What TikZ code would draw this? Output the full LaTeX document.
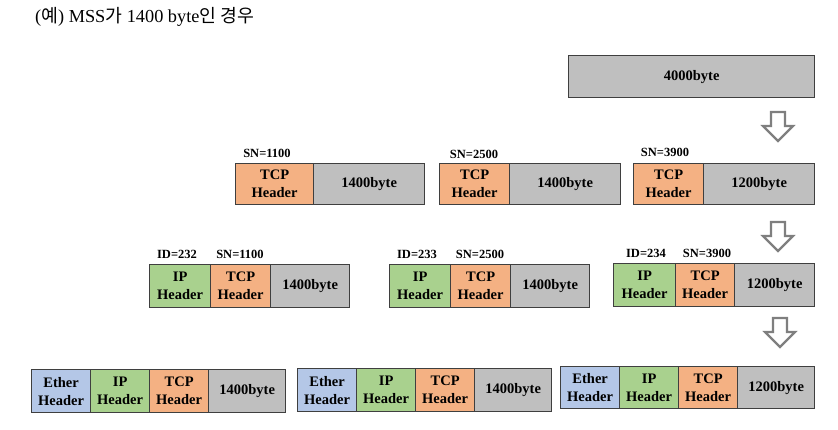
\documentclass[tikz,border=0pt]{standalone}
\usepackage{fontspec}
\setmainfont{Liberation Serif}
\newfontfamily\kr{Noto Sans CJK KR}
\definecolor{cgray}{HTML}{BFBFBF}
\definecolor{corange}{HTML}{F4B183}
\definecolor{cgreen}{HTML}{A9D18E}
\definecolor{cblue}{HTML}{B4C7E7}
\definecolor{cline}{HTML}{3F3F3F}
\definecolor{carrow}{HTML}{7F7F7F}
\tikzset{
  cell/.style={draw=cline, line width=1.3pt, inner sep=0pt, anchor=north west, align=center,
    font=\bfseries\fontsize{14.5}{18}\selectfont},
  data/.style={cell, fill=cgray},
  tcp/.style={cell, fill=corange},
  ip/.style={cell, fill=cgreen},
  eth/.style={cell, fill=cblue},
  lbl/.style={font=\bfseries\fontsize{12.5}{14}\selectfont, inner sep=0pt},
  pics/dnarrow/.style={code={
    \draw[carrow, fill=white, line width=2.2pt, line join=miter]
      (-7,0) -- (7,0) -- (7,14) -- (15,14) -- (0,29) -- (-15,14) -- (-7,14) -- cycle;}}
}
\begin{document}
\begin{tikzpicture}[x=1pt, y=-1pt]
\useasboundingbox (0,0) rectangle (838,429);
% title
\node[anchor=west, inner sep=0pt, font=\fontsize{18.3}{21}\selectfont] (title) at (35,17)
  {({\kr 예}) MSS{\kr 가} 1400 byte{\kr 인 경우}};
% row 1
\node[data, minimum width=246pt, minimum height=42pt] (seg) at (568,55) {4000byte};
\pic at (778,112) {dnarrow};
% row 2
\node[tcp, minimum width=78pt, minimum height=41pt] (a1t) at (235,163) {TCP\\Header};
\node[data, minimum width=111pt, minimum height=41pt] (a1d) at (313,163) {1400byte};
\node[tcp, minimum width=70pt, minimum height=41pt] (a2t) at (439,163) {TCP\\Header};
\node[data, minimum width=111pt, minimum height=41pt] (a2d) at (509,163) {1400byte};
\node[tcp, minimum width=70pt, minimum height=41pt] (a3t) at (633,163) {TCP\\Header};
\node[data, minimum width=111pt, minimum height=41pt] (a3d) at (703,163) {1200byte};
\node[lbl] (sn1) at (267,153) {SN=1100};
\node[lbl] (sn2) at (474,154) {SN=2500};
\node[lbl] (sn3) at (665,152) {SN=3900};
\pic at (778,222) {dnarrow};
% row 3
\node[ip, minimum width=61pt, minimum height=43pt] (b1i) at (149,264) {IP\\Header};
\node[tcp, minimum width=60pt, minimum height=43pt] (b1t) at (210,264) {TCP\\Header};
\node[data, minimum width=79pt, minimum height=43pt] (b1d) at (270,264) {1400byte};
\node[ip, minimum width=61pt, minimum height=43pt] (b2i) at (389,264) {IP\\Header};
\node[tcp, minimum width=60pt, minimum height=43pt] (b2t) at (450,264) {TCP\\Header};
\node[data, minimum width=79pt, minimum height=43pt] (b2d) at (510,264) {1400byte};
\node[ip, minimum width=62pt, minimum height=43pt] (b3i) at (613,263) {IP\\Header};
\node[tcp, minimum width=59pt, minimum height=43pt] (b3t) at (675,263) {TCP\\Header};
\node[data, minimum width=80pt, minimum height=43pt] (b3d) at (734,263) {1200byte};
\node[lbl] (id1) at (177,254) {ID=232};
\node[lbl] (sb1) at (240,254) {SN=1100};
\node[lbl] (id2) at (417,254) {ID=233};
\node[lbl] (sb2) at (480,254) {SN=2500};
\node[lbl] (id3) at (646,253) {ID=234};
\node[lbl] (sb3) at (707,253) {SN=3900};
\pic at (780,318) {dnarrow};
% row 4
\node[eth, minimum width=59pt, minimum height=43pt] (c1e) at (31,369) {Ether\\Header};
\node[ip, minimum width=59pt, minimum height=43pt] (c1i) at (90,369) {IP\\Header};
\node[tcp, minimum width=59pt, minimum height=43pt] (c1t) at (149,369) {TCP\\Header};
\node[data, minimum width=77pt, minimum height=43pt] (c1d) at (208,369) {1400byte};
\node[eth, minimum width=59pt, minimum height=43pt] (c2e) at (297,368) {Ether\\Header};
\node[ip, minimum width=59pt, minimum height=43pt] (c2i) at (356,368) {IP\\Header};
\node[tcp, minimum width=59pt, minimum height=43pt] (c2t) at (415,368) {TCP\\Header};
\node[data, minimum width=77pt, minimum height=43pt] (c2d) at (474,368) {1400byte};
\node[eth, minimum width=59pt, minimum height=42pt] (c3e) at (560,366) {Ether\\Header};
\node[ip, minimum width=59pt, minimum height=42pt] (c3i) at (619,366) {IP\\Header};
\node[tcp, minimum width=59pt, minimum height=42pt] (c3t) at (678,366) {TCP\\Header};
\node[data, minimum width=77pt, minimum height=42pt] (c3d) at (737,366) {1200byte};
\end{tikzpicture}
\end{document}
